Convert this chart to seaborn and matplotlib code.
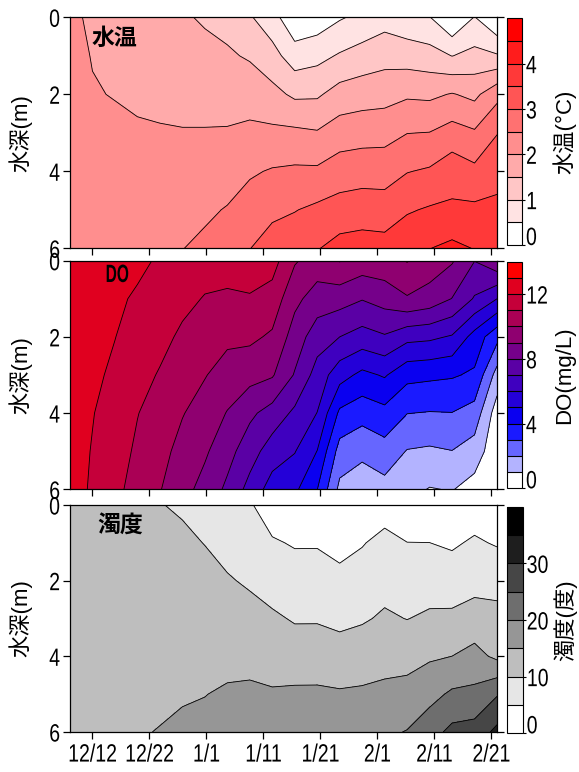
import numpy as np
import matplotlib
matplotlib.use("Agg")
import matplotlib.pyplot as plt
import seaborn as sns
from matplotlib.patheffects import AbstractPathEffect
from matplotlib.transforms import Affine2D

sns.set_theme(style="ticks")
plt.rcParams['font.family'] = ['Liberation Sans', 'Noto Sans CJK JP']
for k in ['axes.edgecolor', 'xtick.color', 'ytick.color', 'text.color', 'axes.labelcolor']:
    plt.rcParams[k] = 'black'

# ---- data -------------------------------------------------------------
days = [-4, 0, 4, 8, 12, 16, 20, 24, 28, 32, 36, 40, 44, 48, 52, 56, 60, 64, 68, 72]
depths = [0, 1, 2, 3, 4, 5, 6]
date_labels = ["12/12", "12/22", "1/1", "1/11", "1/21", "2/1", "2/11", "2/21"]

# water temperature (deg C), one list per depth (m)
temp_0m = [2.05, 1.96, 1.85, 1.75, 1.65, 1.55, 1.45, 1.35, 1.05, 0.70, 0.10, 0.20, 0.45, 0.62, 0.80, 0.65, 0.52, 0.00, 0.52, 0.00]
temp_1m = [2.15, 1.98, 1.92, 1.84, 1.75, 1.68, 1.62, 1.56, 1.45, 1.18, 0.74, 0.85, 1.05, 1.20, 1.32, 1.27, 1.20, 0.99, 1.15, 1.05]
temp_2m = [2.20, 2.03, 1.98, 1.93, 1.85, 1.82, 1.82, 1.80, 1.78, 1.65, 1.41, 1.43, 1.70, 1.78, 1.82, 1.93, 1.90, 2.03, 1.88, 2.35]
temp_3m = [2.25, 2.15, 2.10, 2.05, 2.05, 2.03, 2.03, 2.04, 2.11, 2.10, 2.10, 2.04, 2.25, 2.30, 2.32, 2.49, 2.51, 2.70, 2.56, 2.98]
temp_4m = [2.30, 2.25, 2.20, 2.20, 2.22, 2.20, 2.25, 2.28, 2.44, 2.54, 2.58, 2.58, 2.75, 2.80, 2.80, 2.98, 3.06, 3.30, 3.12, 3.35]
temp_5m = [2.35, 2.32, 2.30, 2.30, 2.35, 2.36, 2.42, 2.53, 2.72, 2.90, 2.98, 3.10, 3.20, 3.25, 3.22, 3.45, 3.55, 3.58, 3.60, 3.60]
temp_6m = [2.40, 2.40, 2.38, 2.42, 2.47, 2.49, 2.60, 2.75, 2.99, 3.20, 3.30, 3.47, 3.68, 3.73, 3.70, 3.85, 3.99, 4.12, 3.98, 3.80]

# dissolved oxygen (mg/L)
do_0m = [12.60, 12.55, 12.40, 12.25, 11.86, 11.60, 11.35, 11.40, 11.30, 11.40, 10.10, 9.55, 10.05, 9.60, 9.65, 10.05, 9.55, 9.10, 8.02, 8.80]
do_1m = [12.60, 12.45, 12.20, 11.85, 11.60, 11.22, 10.95, 10.85, 10.95, 10.60, 9.25, 8.55, 8.40, 8.05, 8.40, 8.90, 8.60, 7.97, 6.90, 6.00]
do_2m = [12.55, 12.35, 12.02, 11.55, 11.25, 10.85, 10.50, 10.20, 10.20, 9.85, 8.55, 7.45, 7.00, 6.60, 6.90, 6.30, 6.20, 5.90, 4.60, 3.30]
do_3m = [12.50, 12.22, 11.80, 11.30, 10.93, 10.45, 10.05, 9.60, 9.35, 9.10, 7.92, 6.60, 5.40, 4.75, 5.10, 4.30, 4.20, 4.10, 3.85, 1.60]
do_4m = [12.45, 12.04, 11.60, 11.03, 10.60, 10.05, 9.60, 8.95, 8.20, 7.60, 6.80, 5.98, 3.80, 3.40, 3.70, 3.02, 2.95, 2.98, 2.60, 0.50]
do_5m = [12.42, 11.95, 11.40, 10.85, 10.30, 9.70, 9.15, 8.35, 7.45, 6.50, 6.05, 4.98, 2.60, 2.20, 2.60, 1.95, 1.85, 1.98, 1.55, 0.30]
do_6m = [12.40, 11.88, 11.20, 10.70, 10.05, 9.35, 8.65, 7.80, 6.66, 5.56, 5.20, 4.02, 1.75, 1.50, 1.65, 1.30, 0.95, 1.05, 0.60, 0.20]

# turbidity (degree)
turb_0m = [12.0, 12.0, 11.5, 11.0, 10.3, 8.95, 7.6, 6.8, 5.5, 2.4, 2.0, 1.8, 1.5, 2.0, 2.8, 2.2, 2.2, 1.8, 2.6, 2.0]
turb_1m = [12.3, 12.3, 12.0, 11.7, 11.2, 11.6, 9.8, 8.5, 7.5, 5.5, 4.6, 4.6, 3.6, 4.7, 6.4, 5.05, 5.02, 4.4, 5.6, 4.6]
turb_2m = [12.5, 12.6, 12.5, 12.4, 12.2, 12.6, 12.6, 10.4, 9.4, 8.0, 7.2, 7.3, 6.2, 7.2, 8.5, 7.6, 8.0, 7.3, 8.4, 8.3]
turb_3m = [12.8, 12.9, 13.0, 13.0, 13.0, 13.4, 13.6, 12.8, 11.6, 10.7, 9.6, 9.6, 8.9, 9.5, 10.6, 9.9, 10.7, 11.0, 12.0, 11.5]
turb_4m = [13.0, 13.2, 13.5, 13.6, 13.8, 14.1, 14.3, 14.3, 14.0, 13.3, 12.4, 12.5, 12.0, 12.6, 13.2, 13.2, 14.4, 15.02, 16.6, 14.0]
turb_5m = [13.3, 13.5, 14.0, 14.2, 14.5, 14.8, 14.95, 15.3, 15.6, 15.4, 15.8, 15.8, 15.5, 15.7, 16.2, 16.8, 18.4, 20.8, 21.2, 24.6]
turb_6m = [13.5, 13.8, 14.5, 14.8, 15.1, 15.4, 15.6, 16.0, 16.4, 16.6, 17.0, 17.4, 17.6, 17.9, 19.2, 20.2, 23.0, 26.3, 27.0, 31.3]

temp_grid = np.array([temp_0m, temp_1m, temp_2m, temp_3m, temp_4m, temp_5m, temp_6m])
do_grid = np.array([do_0m, do_1m, do_2m, do_3m, do_4m, do_5m, do_6m])
turb_grid = np.array([turb_0m, turb_1m, turb_2m, turb_3m, turb_4m, turb_5m, turb_6m])

# ---- styling -------------------------------------------------------------
temp_levels = np.arange(0, 5.01, 0.5)
temp_colors = ['#FFFFFF', '#FFE3E3', '#FFC6C6', '#FFAAAA', '#FF8E8E',
               '#FF7171', '#FF5555', '#FF3939', '#FF1C1C', '#FF0000']
do_levels = np.arange(0, 14.01, 1)
do_colors = ['#FFFFFF', '#B3B3FF', '#6666FF', '#1A1AFF', '#0A00F0', '#2400D8', '#3F00BF',
             '#5A00A5', '#75008A', '#8F0070', '#AA0055', '#C5003A', '#E0001F', '#FF0000']
turb_levels = np.arange(0, 40.01, 5)
turb_colors = ['#FFFFFF', '#E6E6E6', '#BEBEBE', '#969696', '#6E6E6E', '#464646', '#1E1E1E', '#000000']


class Squeeze(AbstractPathEffect):
    """Draw the text narrower (condensed look) about a chosen anchor."""

    def __init__(self, sx=0.78, anchor='center'):
        super().__init__()
        self._sx = sx
        self._anchor = anchor

    def draw_path(self, renderer, gc, tpath, affine, rgbFace=None):
        ext = tpath.get_extents()
        if self._anchor == 'left':
            cx = ext.x0
        elif self._anchor == 'right':
            cx = ext.x1
        else:
            cx = 0.5 * (ext.x0 + ext.x1)
        aff = Affine2D().translate(-cx, 0).scale(self._sx, 1.0).translate(cx, 0) + affine
        renderer.draw_path(gc, tpath, aff, rgbFace)


W, H = 579.0, 772.0
fig = plt.figure(figsize=(W / 100, H / 100), dpi=100)


def px_rect(l, t, r, b):
    return [l / W, 1 - b / H, (r - l) / W, (b - t) / H]


panels = [
    dict(grid=temp_grid, levels=temp_levels, colors=temp_colors, name='水温', clabel='水温(°C)',
         cticks=[0, 1, 2, 3, 4], ax=(70, 17.3, 497, 248.3), cax=(506.7, 18.3, 522.3, 245.0),
         name_xy=(0.05, 0.96), name_fs=16.5, name_sx=1.0),
    dict(grid=do_grid, levels=do_levels, colors=do_colors, name='DO', clabel='DO(mg/L)',
         cticks=[0, 4, 8, 12], ax=(70, 260.7, 497, 489.3), cax=(506.7, 261.7, 522.3, 488.3),
         name_xy=(0.082, 0.99), name_fs=18, name_sx=0.62),
    dict(grid=turb_grid, levels=turb_levels, colors=turb_colors, name='濁度', clabel='濁度(度)',
         cticks=[0, 10, 20, 30], ax=(70, 505.0, 497, 732.0), cax=(507.3, 506.7, 523.0, 733.3),
         name_xy=(0.063, 0.963), name_fs=16.5, name_sx=1.0),
]

X, Y = np.meshgrid(days, depths)
xticks = np.linspace(0, 71, 8)
TICK_FS = 18
axes_list, cax_list = [], []

for i, p in enumerate(panels):
    ax = fig.add_axes(px_rect(*p['ax']))
    cs = ax.contourf(X, Y, p['grid'], levels=p['levels'], colors=p['colors'])
    ax.contour(X, Y, p['grid'], levels=p['levels'], colors='black', linewidths=0.6)
    ax.set_xlim(-4, 72)
    ax.set_ylim(6, 0)
    ax.set_yticks([0, 2, 4, 6])
    ax.set_xticks(xticks)
    if i == 2:
        ax.set_xticklabels(date_labels)
    else:
        ax.set_xticklabels([])
    ax.tick_params(axis='both', direction='out', length=5, width=0.9, labelsize=TICK_FS, pad=2)
    ax.tick_params(axis='y', left=True, right=True, labelleft=True, labelright=False)
    ax.tick_params(axis='x', bottom=True, top=False, pad=2.6)
    for s in ax.spines.values():
        s.set_linewidth(0.9)
        s.set_color('black')
    ax.set_ylabel('水深(m)', fontsize=16)
    ax.yaxis.set_label_coords(-0.087, 0.5)
    t = ax.text(p['name_xy'][0], p['name_xy'][1], p['name'], transform=ax.transAxes,
                fontsize=p['name_fs'], fontweight='bold', ha='left', va='top')
    if p['name_sx'] != 1.0:
        t.set_path_effects([Squeeze(p['name_sx'], 'left')])

    cax = fig.add_axes(px_rect(*p['cax']))
    cb = fig.colorbar(cs, cax=cax, ticks=p['cticks'], drawedges=True)
    cb.outline.set_linewidth(0.8)
    cb.outline.set_edgecolor('black')
    cb.dividers.set_color('black')
    cb.dividers.set_linewidth(0.8)
    cax.tick_params(labelsize=TICK_FS, length=2, width=0.8, pad=0.5, direction='out')
    cax.set_ylabel(p['clabel'], fontsize=16, rotation=90, va='center', ha='center')
    cax.yaxis.set_label_coords(3.7, 0.5)
    axes_list.append(ax)
    cax_list.append(cax)


def style_tick_labels():
    for ax in axes_list:
        for tk in ax.xaxis.get_major_ticks():
            tk.label1.set_path_effects([Squeeze(0.78, 'center')])
        for tk in ax.yaxis.get_major_ticks():
            tk.label1.set_path_effects([Squeeze(0.78, 'right')])
    for cax in cax_list:
        ticks = cax.yaxis.get_major_ticks()
        for tk in ticks:
            tk.label1.set_path_effects([Squeeze(0.78, 'left')])
            tk.label2.set_path_effects([Squeeze(0.78, 'left')])
        ticks[0].label1.set_verticalalignment('baseline')
        ticks[0].label2.set_verticalalignment('baseline')


fig.canvas.draw()
style_tick_labels()
fig.savefig('out.png', dpi=100, facecolor='white')
